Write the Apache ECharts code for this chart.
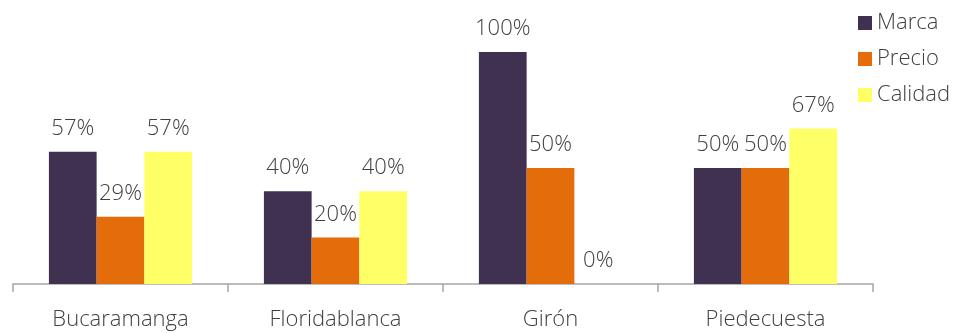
<!DOCTYPE html>
<html>
<head>
<meta charset="utf-8">
<script src="https://cdn.jsdelivr.net/npm/echarts@6/dist/echarts.min.js"></script>
<style>
  html, body { margin: 0; padding: 0; background: #fff; }
  #chart { width: 956px; height: 333px; }
</style>
</head>
<body>
<div id="chart"></div>
<script>
const categories = ['Bucaramanga', 'Floridablanca', 'Girón', 'Piedecuesta'];
const marca = [57, 40, 100, 50];
const precio = [29, 20, 50, 50];
const calidad = [57, 40, 0, 67];

const FONT = '"Open Sans", "Noto Sans", sans-serif';
const TEXT = '#404040';

function barSeries(name, data, color) {
  return {
    name: name,
    type: 'bar',
    data: data,
    barGap: '0%',
    barCategoryGap: '33.4%',
    itemStyle: { color: color },
    label: {
      show: true,
      position: 'top',
      distance: 12,
      formatter: p => p.value + '%',
      fontFamily: FONT,
      fontSize: 22,
      fontWeight: 300,
      color: TEXT
    }
  };
}

const chart = echarts.init(document.getElementById('chart'), null, { renderer: 'canvas' });
chart.setOption({
  animation: false,
  grid: { left: 13, right: 83, top: 52, bottom: 49, containLabel: false },
  legend: {
    orient: 'vertical',
    left: 853,
    top: 7,
    itemWidth: 14,
    itemHeight: 14,
    itemGap: 14,
    icon: 'rect',
    textStyle: { fontFamily: FONT, fontSize: 22, fontWeight: 300, color: TEXT, lineHeight: 22 },
    data: ['Marca', 'Precio', 'Calidad']
  },
  xAxis: {
    type: 'category',
    data: categories,
    axisLine: { lineStyle: { color: '#a6a6a6', width: 1.5 } },
    axisTick: { show: true, length: 8, lineStyle: { color: '#a6a6a6', width: 1.5 } },
    axisLabel: { fontFamily: FONT, fontSize: 22, fontWeight: 300, color: TEXT, margin: 25 }
  },
  yAxis: {
    type: 'value',
    min: 0,
    max: 100,
    show: false,
    splitLine: { show: false }
  },
  series: [
    barSeries('Marca', marca, '#403151'),
    barSeries('Precio', precio, '#E46C0A'),
    barSeries('Calidad', calidad, '#FFFF66')
  ]
});
</script>
</body>
</html>
